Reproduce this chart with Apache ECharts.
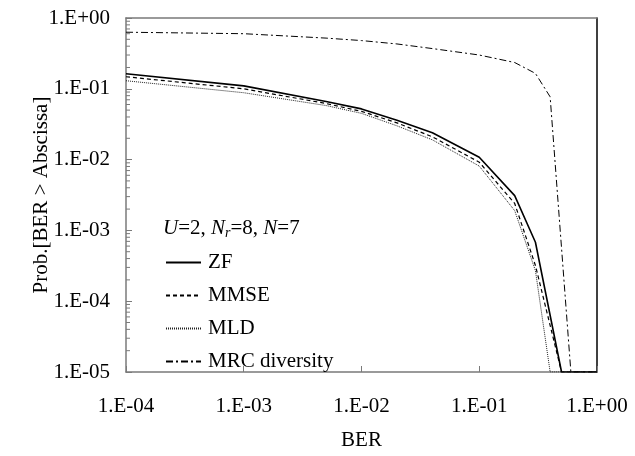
<!DOCTYPE html>
<html>
<head>
<meta charset="utf-8">
<script src="https://cdn.jsdelivr.net/npm/echarts@6/dist/echarts.min.js"></script>
<style>
  html, body { margin: 0; padding: 0; background: #fff; }
  #chart { width: 635px; height: 456px; }
</style>
</head>
<body>
<div id="chart"></div>
<script>
// BER abscissa points (shared by all curves, null = no point)
var ber = [1e-4, 1e-3, 5e-3, 1e-2, 2e-2, 4e-2, 0.1, 0.2, 0.3, 0.4, 0.5, 0.6, 1]
var zf = [0.163, 0.11, 0.066, 0.052, 0.036, 0.024, 0.0108, 0.0031, 6.8e-4, null, 1e-5, 1e-5, 1e-5]
var mmse = [0.148, 0.1, 0.062, 0.048, 0.033, 0.021, 0.0092, 0.0024, 3.2e-4, null, 1e-5, 1e-5, 1e-5]
var mld = [0.13, 0.088, 0.058, 0.045, 0.030, 0.019, 0.0081, 0.0019, 2.7e-4, 1e-5, 1e-5, 1e-5, 1e-5]
var mrc = [0.63, 0.6, 0.52, 0.48, 0.43, 0.37, 0.30, 0.235, 0.165, 0.077, null, 1e-5, 1e-5]
var seriesNames = ['ZF', 'MMSE', 'MLD', 'MRC diversity']

// minor ticks on the probability axis (2..9 of each decade)
var minorY = []
for (var e = -5; e < 0; e++) {
  for (var m = 2; m <= 9; m++) {
    minorY.push(m * Math.pow(10, e))
  }
}

var font = 'Liberation Serif'
var axisGray = '#7a7a7a'

function expLabel (v) {
  var p = Math.round(Math.log10(v))
  var s = p < 0 ? '-' : '+'
  var a = Math.abs(p)
  return '1.E' + s + (a < 10 ? '0' : '') + a
}

function pairs (ys) {
  return ber.map(function (x, i) { return [x, ys[i]] })
}

var chart = echarts.init(document.getElementById('chart'))

var lineBase = {
  type: 'line',
  symbol: 'none',
  connectNulls: true,
  animation: false,
  silent: true
}

var option = {
  backgroundColor: '#fff',
  animation: false,
  grid: {
    left: 126,
    top: 18,
    right: 38,
    bottom: 81
  },
  legend: {
    orient: 'vertical',
    left: 160,
    top: 247,
    itemWidth: 35,
    itemHeight: 20,
    itemGap: 12,
    itemStyle: { opacity: 0 },
    data: seriesNames,
    textStyle: { fontFamily: font, fontSize: 21, lineHeight: 20, color: '#000', padding: [0, 0, 0, 2] }
  },
  xAxis: [{
    type: 'log',
    logBase: 10,
    min: 1e-4,
    max: 1,
    interval: 1,
    name: 'BER',
    nameLocation: 'middle',
    nameGap: 58,
    nameMoveOverlap: false,
    nameTextStyle: { fontFamily: font, fontSize: 21, color: '#000' },
    axisLine: { show: true, lineStyle: { color: axisGray, width: 1.5 } },
    axisTick: { show: true, inside: true, length: 6, lineStyle: { color: axisGray, width: 1 } },
    axisLabel: { fontFamily: font, fontSize: 21, color: '#000', margin: 24, formatter: expLabel },
    splitLine: { show: false }
  }, {
    // top frame line
    type: 'log',
    logBase: 10,
    min: 1e-4,
    max: 1,
    position: 'top',
    axisLine: { show: true, lineStyle: { color: axisGray, width: 1.5 } },
    axisTick: { show: false },
    axisLabel: { show: false },
    splitLine: { show: false }
  }],
  yAxis: [{
    type: 'log',
    logBase: 10,
    min: 1e-5,
    max: 1,
    interval: 1,
    name: 'Prob.[BER > Abscissa]',
    nameLocation: 'middle',
    nameGap: 74,
    nameMoveOverlap: false,
    nameTextStyle: { fontFamily: font, fontSize: 21, color: '#000' },
    axisLine: { show: true, lineStyle: { color: axisGray, width: 1.5 } },
    axisTick: { show: true, inside: true, length: 6, lineStyle: { color: axisGray, width: 1 } },
    axisLabel: { fontFamily: font, fontSize: 21, color: '#000', margin: 16, formatter: expLabel },
    splitLine: { show: false }
  }, {
    // right frame line
    type: 'log',
    logBase: 10,
    min: 1e-5,
    max: 1,
    position: 'right',
    axisLine: { show: true, lineStyle: { color: '#000', width: 1.5 } },
    axisLabel: { show: false },
    axisTick: { show: false },
    splitLine: { show: false }
  }],
  graphic: [{
    type: 'text',
    left: 163,
    top: 216,
    style: {
      text: '{i|U}=2, {i|N}{s|r}=8, {i|N}=7',
      font: '21px ' + font,
      fill: '#000',
      rich: {
        i: { fontFamily: font, fontSize: 21, fontStyle: 'italic', lineHeight: 26 },
        s: { fontFamily: font, fontSize: 14, fontStyle: 'italic', lineHeight: 26, padding: [10, 0, 0, 0] }
      }
    }
  }],
  series: [
    Object.assign({}, lineBase, {
      name: seriesNames[0],
      data: pairs(zf),
      lineStyle: { color: '#000', width: 1.6, type: 'solid' },
      itemStyle: { color: '#000' }
    }),
    Object.assign({}, lineBase, {
      name: seriesNames[1],
      data: pairs(mmse),
      lineStyle: { color: '#000', width: 1.2, type: [4, 3] },
      itemStyle: { color: '#000' }
    }),
    Object.assign({}, lineBase, {
      name: seriesNames[2],
      data: pairs(mld),
      lineStyle: { color: '#222', width: 1, type: [1, 1] },
      itemStyle: { color: '#222' }
    }),
    Object.assign({}, lineBase, {
      name: seriesNames[3],
      data: pairs(mrc),
      lineStyle: { color: '#000', width: 1, type: [7, 3, 2, 3] },
      itemStyle: { color: '#000' }
    }),
    {
      // minor log ticks drawn through the y scale
      type: 'custom',
      silent: true,
      z: 10,
      data: minorY.map(function (v) { return [1e-4, v] }),
      renderItem: function (params, api) {
        var p = api.coord([api.value(0), api.value(1)])
        return {
          type: 'line',
          shape: { x1: p[0], y1: p[1], x2: p[0] + 4, y2: p[1] },
          style: { stroke: axisGray, lineWidth: 1 }
        }
      }
    }
  ]
}

chart.setOption(option)
</script>
</body>
</html>
